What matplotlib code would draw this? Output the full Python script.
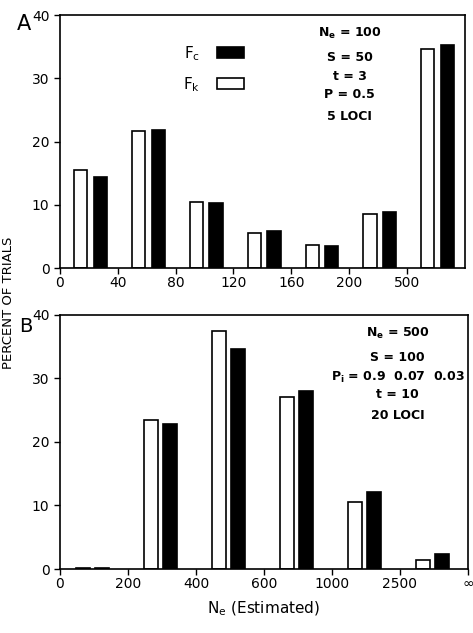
import matplotlib
matplotlib.use("Agg")
import matplotlib.pyplot as plt
import numpy as np
from matplotlib.patches import Patch

# Panel A data
a_labels = ["0", "40", "80", "120", "160", "200", "500"]
a_fk = [15.5, 21.7, 10.4, 5.6, 3.7, 8.5, 34.6]
a_fc = [14.4, 21.8, 10.3, 5.9, 3.5, 8.8, 35.3]

# Panel B data
b_labels = ["0", "200", "400", "600", "1000", "2500", "\u221e"]
b_fk = [0.2, 23.5, 37.4, 27.1, 10.5, 1.4]
b_fc = [0.2, 22.9, 34.6, 28.0, 12.1, 2.3]

yticks = [0, 10, 20, 30, 40]

plt.rcParams['font.family'] = ['DejaVu Sans']
fig = plt.figure(figsize=(4.73, 6.33), dpi=100)

axA = fig.add_axes([0.1268, 0.5766, 0.856, 0.3997])
axB = fig.add_axes([0.1268, 0.1011, 0.8626, 0.4013])

def style(ax, nb, labels):
    ax.set_xlim(0, nb)
    ax.set_ylim(0, 40)
    ax.set_yticks(yticks)
    ax.set_xticks(np.arange(len(labels)))
    ax.set_xticklabels(labels, fontsize=10)
    ax.tick_params(axis='y', labelsize=10, direction='out', length=4, width=1)
    ax.tick_params(axis='x', direction='out', length=4, width=1, pad=2)
    for s in ax.spines.values():
        s.set_linewidth(1.2)

# Panel A
xa = np.arange(len(a_fk))
axA.bar(xa + 0.36, a_fk, width=0.23, color='white', edgecolor='black', linewidth=1.2)
axA.bar(xa + 0.70, a_fc, width=0.23, color='black', edgecolor='black', linewidth=1.2)
style(axA, len(a_fk), a_labels)

handles = [Patch(facecolor='black', edgecolor='black', linewidth=1.2),
           Patch(facecolor='white', edgecolor='black', linewidth=1.2)]
axA.legend(handles, [r"$\mathrm{F_c}$", r"$\mathrm{F_k}$"], markerfirst=False,
           frameon=False, fontsize=11, handlelength=1.8, handleheight=0.7,
           labelspacing=0.8, handletextpad=1.1, loc='upper left',
           bbox_to_anchor=(0.27, 0.94))

tk = dict(ha='center', va='center', fontsize=9, fontweight='bold')
axA.text(0.715, 0.929, r"$\mathbf{N_e}$ = 100", transform=axA.transAxes, **tk)
axA.text(0.715, 0.834, "S = 50", transform=axA.transAxes, **tk)
axA.text(0.715, 0.755, "t = 3", transform=axA.transAxes, **tk)
axA.text(0.715, 0.684, "P = 0.5", transform=axA.transAxes, **tk)
axA.text(0.715, 0.597, "5 LOCI", transform=axA.transAxes, **tk)

# Panel B
xb = np.arange(len(b_fk))
axB.bar(xb + 0.34, b_fk, width=0.2, color='white', edgecolor='black', linewidth=1.2)
axB.bar(xb + 0.62, b_fc, width=0.2, color='black', edgecolor='black', linewidth=1.2)
style(axB, len(b_fk), b_labels)

bx = 0.828
axB.text(bx, 0.929, r"$\mathbf{N_e}$ = 500", transform=axB.transAxes, **tk)
axB.text(bx, 0.831, "S = 100", transform=axB.transAxes, **tk)
axB.text(bx, 0.756, r"$\mathbf{P_i}$ = 0.9  0.07  0.03", transform=axB.transAxes, **tk)
axB.text(bx, 0.685, "t = 10", transform=axB.transAxes, **tk)
axB.text(bx, 0.606, "20 LOCI", transform=axB.transAxes, **tk)

axB.set_xlabel(r"$\mathrm{N_e}$ (Estimated)", fontsize=11, labelpad=6)

fig.text(0.036, 0.978, "A", fontsize=15, ha='left', va='top')
fig.text(0.040, 0.500, "B", fontsize=14, ha='left', va='top')
fig.text(0.017, 0.521, "PERCENT OF TRIALS", rotation=90, ha='center', va='center', fontsize=9.5)

fig.savefig("out.png", dpi=100)
